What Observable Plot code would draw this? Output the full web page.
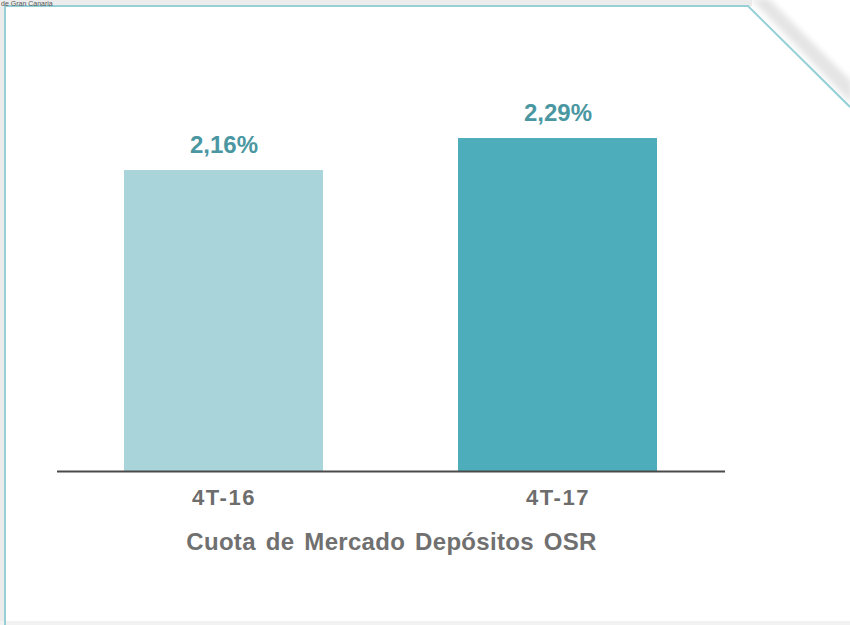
<!DOCTYPE html>
<html>
<head>
<meta charset="utf-8">
<script src="https://cdn.jsdelivr.net/npm/d3@7"></script>
<script src="https://cdn.jsdelivr.net/npm/@observablehq/plot@0.6"></script>
<style>
  html, body { margin: 0; padding: 0; background: #ffffff; }
  #wrap { position: relative; width: 850px; height: 625px; overflow: hidden; font-family: "Liberation Sans", Arial, sans-serif; }
  #deco, #chart { position: absolute; left: 0; top: 0; }
</style>
</head>
<body>
<div id="wrap">
  <svg id="deco" width="850" height="625">
    <defs>
      <filter id="blur" x="-20%" y="-20%" width="140%" height="140%"><feGaussianBlur stdDeviation="3"/></filter>
    </defs>
    <rect x="0" y="0" width="752" height="6" fill="#ececec"/>
    <rect x="0" y="0" width="5" height="625" fill="#ececec"/>
    <rect x="0" y="621" width="850" height="4" fill="#f2f2f2"/>
    <polygon points="750,-2 768,-2 852,82 852,104" fill="#e4e4e4" filter="url(#blur)"/>
    <polygon points="6,6 748,6 850,107 850,621 6,621" fill="#ffffff"/>
    <polyline points="5,625 5,6 748,6 850,107" fill="none" stroke="#94d0d6" stroke-width="2"/>
    <text x="1" y="6" font-size="7" fill="#555" font-family="Liberation Sans, Arial, sans-serif">de Gran Canaria</text>
  </svg>
  <div id="chart"></div>
</div>
<script>
const categories = ["4T-16", "4T-17"];
const values = [2.16, 2.29];
const valueLabels = ["2,16%", "2,29%"];
const barColors = ["#a8d4da", "#4eadba"];
const axisTitle = "Cuota de Mercado Depósitos OSR";

const data = categories.map((c, i) => ({cat: c, value: values[i], label: valueLabels[i], color: barColors[i]}));
const yMin = 0.937;

const chart = Plot.plot({
  width: 850,
  height: 625,
  marginLeft: 57,
  marginRight: 125,
  marginTop: 30,
  marginBottom: 154,
  style: {background: "transparent", fontFamily: "Liberation Sans, Arial, sans-serif"},
  x: {domain: categories, paddingInner: 0.403, paddingOuter: 0.2015, label: null},
  y: {domain: [yMin, 2.729], axis: null},
  marks: [
    Plot.barY(data, {x: "cat", y1: yMin, y2: "value", fill: "color"}),
    Plot.ruleY([yMin], {stroke: "#4a4a4a", strokeWidth: 2}),
    Plot.text(data, {x: "cat", y: "value", text: "label", dy: -18, lineAnchor: "bottom",
      fill: "#4a97a2", fontSize: 24, fontWeight: "bold"}),
    Plot.axisX({tickSize: 0, tickPadding: 18, fontSize: 22, fontWeight: "bold", color: "#6d6d6d", label: null}),
    Plot.text([axisTitle], {frameAnchor: "bottom", dx: 0, dy: 71, lineAnchor: "middle",
      fill: "#707070", fontSize: 24, fontWeight: "bold", text: d => d})
  ]
});
chart.querySelectorAll('g[aria-label="x-axis tick label"] text').forEach(e => e.setAttribute("letter-spacing", "1.6"));
chart.querySelectorAll('g[aria-label="text"]').forEach((g, i) => {
  g.querySelectorAll("text").forEach(t => {
    if (t.textContent === axisTitle) { t.setAttribute("word-spacing", "3"); t.setAttribute("letter-spacing", "0.3"); }
  });
});
document.getElementById("chart").appendChild(chart);
</script>
</body>
</html>
